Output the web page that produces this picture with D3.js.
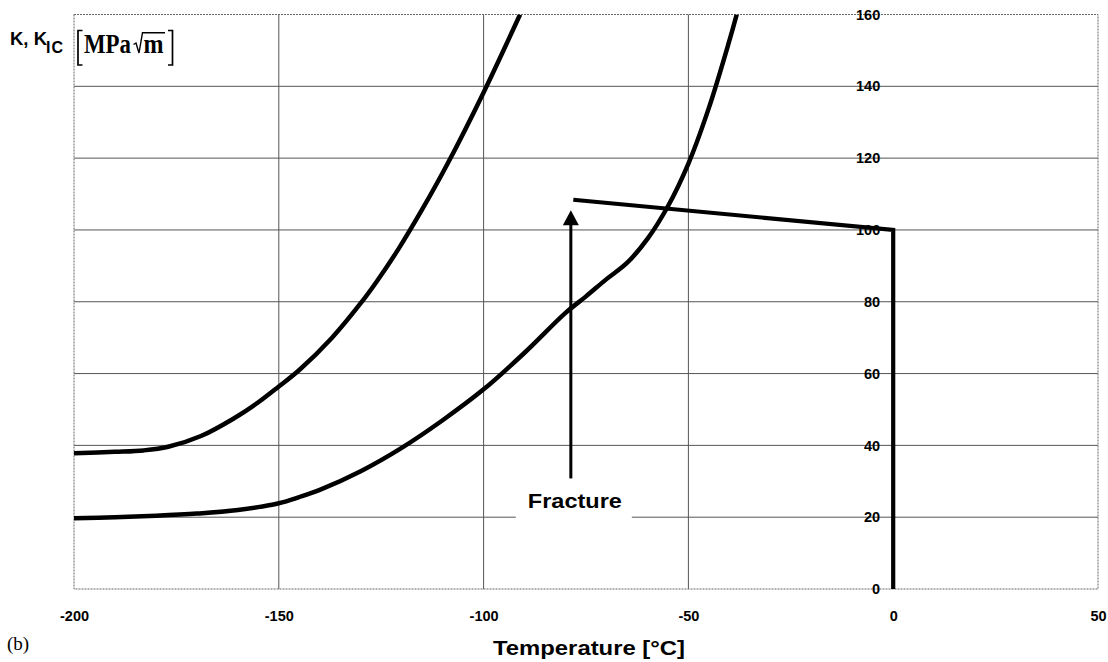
<!DOCTYPE html>
<html>
<head>
<meta charset="utf-8">
<script src="https://cdn.jsdelivr.net/npm/d3@7"></script>
<style>
  html, body { margin: 0; padding: 0; background: #fff; }
  svg { display: block; }
  .tick text { font-family: "Liberation Sans", Arial, sans-serif; font-weight: bold; font-size: 14.5px; fill: #000; }
</style>
</head>
<body>
<svg id="chart" width="1108" height="662"></svg>
<script>
// Fracture toughness K_IC vs temperature (two curves), applied K path and fracture marker
const xTicks = [-200, -150, -100, -50, 0, 50];
const yTicks = [0, 20, 40, 60, 80, 100, 120, 140, 160];

const upperTemp = [-200, -190, -183, -177, -169, -161, -155, -150, -145, -137, -130, -126, -121, -115, -109, -100, -91.1];
const upperK    = [37.8, 38.2, 38.6, 39.6, 42.6, 47.5, 52.0, 56.4, 61.0, 70.0, 79.6, 85.8, 94.3, 105.7, 118.0, 138.3, 160];

const lowerTemp = [-200, -190, -180, -170, -160, -150, -145, -140, -130, -120, -110, -100, -90, -80, -75, -70, -65, -60, -55, -50, -45, -40, -38.2];
const lowerK    = [19.7, 20.0, 20.4, 21.0, 22.0, 23.9, 25.6, 27.6, 32.8, 39.3, 47.0, 55.6, 65.8, 76.9, 81.5, 86.3, 90.8, 97.5, 106.6, 118.5, 134.0, 152.7, 160];

// applied stress intensity path: load to 100 at 0 °C, then cooling line
const pathTemp = [-78.1, 0, 0];
const pathK    = [108.4, 100, 0];

// fracture arrow (temperature, K from / to)
const arrowTemp = -78.7;
const arrowFrom = 30.8;
const arrowTo   = 105.5;
const arrowLabel = "Fracture";
const arrowLabelK = 23;

const svg = d3.select("#chart");
const x = d3.scaleLinear().domain([-200, 50]).range([74, 1098]);
const y = d3.scaleLinear().domain([0, 160]).range([589, 14.5]);

// gridlines
const grid = svg.append("g");
grid.selectAll("line.h").data(yTicks.filter(v => v > 0 && v < 160)).join("line")
  .attr("x1", x(-200)).attr("x2", x(50))
  .attr("y1", d => y(d)).attr("y2", d => y(d))
  .attr("stroke", "#555").attr("stroke-width", 1);
grid.selectAll("line.v").data([-150, -100, -50]).join("line")
  .attr("x1", d => x(d)).attr("x2", d => x(d))
  .attr("y1", y(160)).attr("y2", y(0))
  .attr("stroke", "#555").attr("stroke-width", 1);

// plot frame
svg.append("rect")
  .attr("x", x(-200)).attr("y", y(160))
  .attr("width", x(50) - x(-200)).attr("height", y(0) - y(160))
  .attr("fill", "none").attr("stroke", "#666").attr("stroke-width", 1)
  .attr("stroke-dasharray", "2,1");

// axes: value labels sit next to the 0 °C line
const plain = d => String(d);
const yAxis = svg.append("g")
  .attr("transform", `translate(${x(0)},0)`)
  .call(d3.axisLeft(y).tickValues(yTicks).tickFormat(plain).tickSize(0).tickPadding(13));
yAxis.select(".domain").remove();

const xAxis = svg.append("g")
  .attr("transform", `translate(0,${y(0)})`)
  .call(d3.axisBottom(x).tickValues(xTicks).tickFormat(plain).tickSize(0).tickPadding(22));
xAxis.select(".domain").remove();

// curves
svg.append("clipPath").attr("id", "plotClip").append("rect")
  .attr("x", x(-200)).attr("y", y(160))
  .attr("width", x(50) - x(-200)).attr("height", y(0) - y(160));

const curve = d3.line().x(d => x(d[0])).y(d => y(d[1])).curve(d3.curveCatmullRom.alpha(0.5));
const plot = svg.append("g").attr("clip-path", "url(#plotClip)");

plot.append("path")
  .datum(upperTemp.map((t, i) => [t, upperK[i]]))
  .attr("d", curve).attr("fill", "none").attr("stroke", "#000").attr("stroke-width", 4.5);

plot.append("path")
  .datum(lowerTemp.map((t, i) => [t, lowerK[i]]))
  .attr("d", curve).attr("fill", "none").attr("stroke", "#000").attr("stroke-width", 4.5);

svg.append("path")
  .datum(pathTemp.map((t, i) => [t, pathK[i]]))
  .attr("d", d3.line().x(d => x(d[0])).y(d => y(d[1])))
  .attr("fill", "none").attr("stroke", "#000").attr("stroke-width", 4.2)
  .attr("stroke-linejoin", "miter");

// fracture arrow
const headLen = 15, headHalf = 8;
const ax = x(arrowTemp), tipY = y(arrowTo);
svg.append("line")
  .attr("x1", ax).attr("x2", ax)
  .attr("y1", y(arrowFrom)).attr("y2", tipY + headLen - 1)
  .attr("stroke", "#000").attr("stroke-width", 3);
svg.append("path")
  .attr("d", `M${ax},${tipY} L${ax + headHalf},${tipY + headLen} L${ax - headHalf},${tipY + headLen} Z`)
  .attr("fill", "#000");

// label with white backing that hides the gridline behind it
const labelY = y(arrowLabelK);
svg.append("rect")
  .attr("x", ax - 55).attr("y", labelY - 20)
  .attr("width", 116).attr("height", 36)
  .attr("fill", "#fff");
svg.append("text")
  .attr("x", ax + 4).attr("y", labelY + 2)
  .attr("text-anchor", "middle")
  .attr("font-family", "Liberation Sans, Arial, sans-serif")
  .attr("font-weight", "bold").attr("font-size", 21)
  .attr("textLength", 94).attr("lengthAdjust", "spacingAndGlyphs")
  .text(arrowLabel);

// axis title
svg.append("text")
  .attr("x", 589).attr("y", 655)
  .attr("text-anchor", "middle")
  .attr("font-family", "Liberation Sans, Arial, sans-serif")
  .attr("font-weight", "bold").attr("font-size", 21)
  .attr("textLength", 192).attr("lengthAdjust", "spacingAndGlyphs")
  .text("Temperature [°C]");

// y title: K, K_IC [MPa √m]
const yt = svg.append("g");
yt.append("text")
  .attr("x", 10).attr("y", 45)
  .attr("font-family", "Liberation Sans, Arial, sans-serif")
  .attr("font-weight", "bold").attr("font-size", 18.5)
  .text("K, K");
yt.append("text")
  .attr("x", 46).attr("y", 53)
  .attr("font-family", "Liberation Sans, Arial, sans-serif")
  .attr("font-weight", "bold").attr("font-size", 16)
  .attr("letter-spacing", 1)
  .text("IC");

yt.append("path")
  .attr("d", "M82.5,30.5 L78,30.5 L78,65 L82.5,65")
  .attr("fill", "none").attr("stroke", "#000").attr("stroke-width", 1.7);
yt.append("path")
  .attr("d", "M168,30.5 L172.5,30.5 L172.5,65 L168,65")
  .attr("fill", "none").attr("stroke", "#000").attr("stroke-width", 1.7);

yt.append("text")
  .attr("x", 84).attr("y", 53.3)
  .attr("font-family", "Liberation Serif, Times New Roman, serif")
  .attr("font-weight", "bold").attr("font-size", 27)
  .attr("textLength", 47).attr("lengthAdjust", "spacingAndGlyphs")
  .text("MPa");
yt.append("path")
  .attr("d", "M133.5,44.5 L136,43 L139,53 L142.5,32.7 L165,32.7")
  .attr("fill", "none").attr("stroke", "#000").attr("stroke-width", 1.4);
yt.append("text")
  .attr("x", 143.5).attr("y", 53.3)
  .attr("font-family", "Liberation Serif, Times New Roman, serif")
  .attr("font-weight", "bold").attr("font-size", 27)
  .attr("textLength", 20).attr("lengthAdjust", "spacingAndGlyphs")
  .text("m");

// panel tag
svg.append("text")
  .attr("x", 7).attr("y", 650)
  .attr("font-family", "Liberation Serif, Times New Roman, serif")
  .attr("font-size", 19)
  .text("(b)");
</script>
</body>
</html>
